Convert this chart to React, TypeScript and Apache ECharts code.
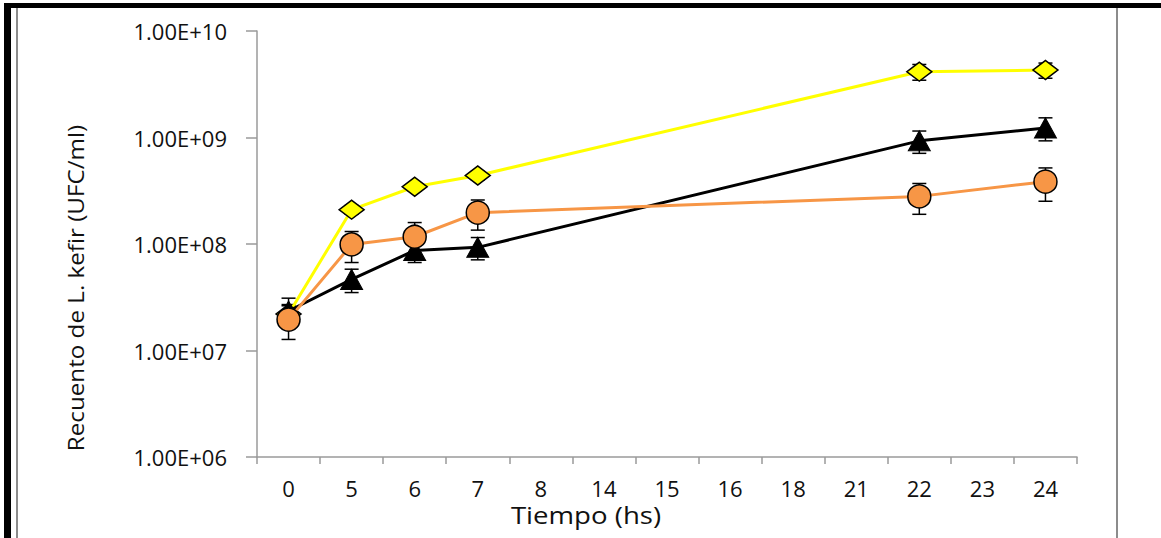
import React, { useEffect, useRef } from "react";
import * as echarts from "echarts";

const categories = ["0", "5", "6", "7", "8", "14", "15", "16", "18", "21", "22", "23", "24"];
const sampleTimes = ["0", "5", "6", "7", "22", "24"];

const yellowValues = [2.2e7, 2.1e8, 3.45e8, 4.4e8, 4.15e9, 4.3e9];
const yellowErrors = [0.5e7, 2e7, 3e7, 4e7, 7e8, 7e8];

const blackValues = [2.35e7, 4.65e7, 8.7e7, 9.3e7, 9.3e8, 1.23e9];
const blackErrors = [0.75e7, 1.15e7, 2e7, 2.2e7, 2.2e8, 3e8];

const orangeValues = [1.95e7, 9.9e7, 1.17e8, 1.97e8, 2.8e8, 3.85e8];
const orangeErrors = [0.68e7, 3.2e7, 4.2e7, 6.2e7, 9e7, 1.33e8];

const yTickLabels = ["1.00E+06", "1.00E+07", "1.00E+08", "1.00E+09", "1.00E+10"];

const FONT = "Open Sans";

function fmtExp(v: number): string {
  const e = Math.round(Math.log10(v));
  const idx = e - 6;
  return yTickLabels[idx] ?? "";
}

function errData(values: number[], errors: number[]) {
  return sampleTimes.map((t, i) => [categories.indexOf(t), values[i], errors[i]]);
}

function lineData(values: number[]) {
  return sampleTimes.map((t, i) => [categories.indexOf(t), values[i]]);
}

function errSeries(values: number[], errors: number[]) {
  return {
    type: "custom",
    z: 1,
    silent: true,
    data: errData(values, errors),
    renderItem: (params: any, api: any) => {
      const x = api.value(0);
      const v = api.value(1);
      const e = api.value(2);
      const top = api.coord([x, v + e]);
      const bot = api.coord([x, Math.max(v - e, 1e6)]);
      const hw = 7;
      const style = { stroke: "#000", lineWidth: 1.5 };
      return {
        type: "group",
        children: [
          { type: "line", shape: { x1: top[0], y1: top[1], x2: bot[0], y2: bot[1] }, style },
          { type: "line", shape: { x1: top[0] - hw, y1: top[1], x2: top[0] + hw, y2: top[1] }, style },
          { type: "line", shape: { x1: bot[0] - hw, y1: bot[1], x2: bot[0] + hw, y2: bot[1] }, style },
        ],
      };
    },
  };
}

export default function App() {
  const ref = useRef<HTMLDivElement>(null);
  useEffect(() => {
    document.body.style.margin = "0";
    if (!ref.current) return;
    const chart = echarts.init(ref.current, null, { renderer: "svg" });
    chart.setOption({
      animation: false,
      backgroundColor: "#fff",
      grid: { left: 257, right: 84, top: 31, bottom: 81, containLabel: false },
      xAxis: {
        type: "category",
        data: categories,
        boundaryGap: true,
        axisLine: { lineStyle: { color: "#9a9a9a", width: 1.5 } },
        axisTick: { show: true, interval: 0, length: 7, lineStyle: { color: "#9a9a9a", width: 1.5 } },
        axisLabel: { interval: 0, margin: 20, color: "#111", fontSize: 22, fontFamily: FONT },
        splitLine: { show: false },
      },
      yAxis: {
        type: "log",
        logBase: 10,
        min: 1e6,
        max: 1e10,
        axisLine: { show: true, lineStyle: { color: "#9a9a9a", width: 1.5 } },
        axisTick: { show: true, length: 11, lineStyle: { color: "#9a9a9a", width: 1.5 } },
        axisLabel: { margin: 30, color: "#111", fontSize: 22, fontFamily: FONT, formatter: fmtExp },
        splitLine: { show: false },
        minorTick: { show: false },
      },
      graphic: [
        { type: "rect", shape: { x: 4, y: 3, width: 7, height: 535 }, style: { fill: "#000" }, z: 100 },
        { type: "rect", shape: { x: 4, y: 3, width: 1157, height: 5 }, style: { fill: "#000" }, z: 100 },
        { type: "rect", shape: { x: 16, y: 8, width: 2, height: 530 }, style: { fill: "#8c8c8c" }, z: 100 },
        { type: "rect", shape: { x: 1116, y: 8, width: 2, height: 530 }, style: { fill: "#8c8c8c" }, z: 100 },
        {
          type: "text",
          x: 75,
          y: 288,
          rotation: Math.PI / 2,
          scaleX: 1.1,
          style: {
            text: "Recuento de L. kefir (UFC/ml)",
            fontSize: 22,
            fontFamily: FONT,
            fill: "#111",
            textAlign: "center",
            textVerticalAlign: "middle",
          },
        },
        {
          type: "text",
          x: 586,
          y: 515,
          scaleX: 1.15,
          style: {
            text: "Tiempo (hs)",
            fontSize: 24,
            fontFamily: FONT,
            fill: "#111",
            textAlign: "center",
            textVerticalAlign: "middle",
          },
        },
      ],
      series: [
        errSeries(yellowValues, yellowErrors),
        errSeries(blackValues, blackErrors),
        errSeries(orangeValues, orangeErrors),
        {
          name: "yellow",
          type: "line",
          z: 2,
          data: lineData(yellowValues),
          symbol: "diamond",
          symbolSize: [25, 19],
          lineStyle: { color: "#FFFF00", width: 3 },
          itemStyle: { color: "#FFFF00", borderColor: "#000", borderWidth: 1.5 },
        },
        {
          name: "black",
          type: "line",
          z: 3,
          data: lineData(blackValues),
          symbol: "triangle",
          symbolSize: [22, 20],
          lineStyle: { color: "#000", width: 3 },
          itemStyle: { color: "#000", borderColor: "#000", borderWidth: 1 },
        },
        {
          name: "orange",
          type: "line",
          z: 4,
          data: lineData(orangeValues),
          symbol: "circle",
          symbolSize: 23,
          lineStyle: { color: "#F79646", width: 3 },
          itemStyle: { color: "#F79646", borderColor: "#000", borderWidth: 1.5 },
        },
      ],
    });
    return () => chart.dispose();
  }, []);
  return <div ref={ref} style={{ position: "absolute", left: 0, top: 0, width: 1161, height: 538 }} />;
}
